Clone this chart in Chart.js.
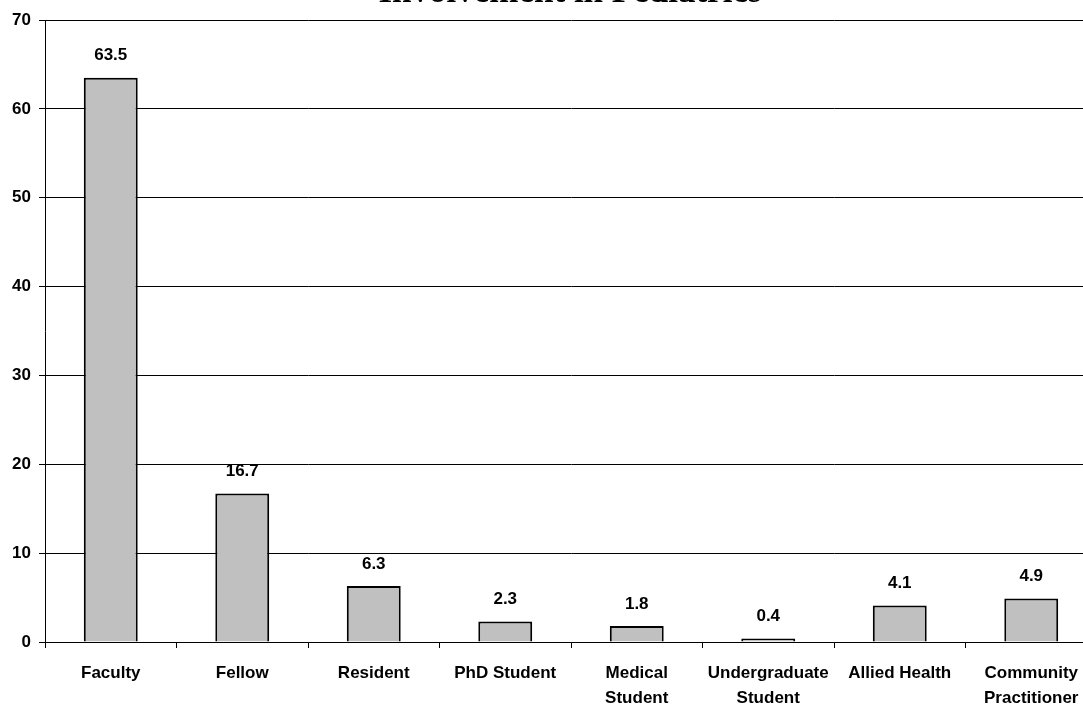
<!DOCTYPE html>
<html>
<head>
<meta charset="utf-8">
<script src="https://cdn.jsdelivr.net/npm/chart.js@4"></script>
<style>
  html, body { margin: 0; padding: 0; background: #fff; overflow: hidden; }
  #wrap { position: relative; width: 1100px; height: 709px; }
</style>
</head>
<body>
<div id="wrap"><canvas id="chart"></canvas></div>
<script>
// Chart data
const title = "Involvement in Pediatrics";
const categories = [
  "Faculty",
  "Fellow",
  "Resident",
  "PhD Student",
  ["Medical", "Student"],
  ["Undergraduate", "Student"],
  "Allied Health",
  ["Community", "Practitioner"],
];
const percentages = [63.5, 16.7, 6.3, 2.3, 1.8, 0.4, 4.1, 4.9];
const yTicks = [0, 10, 20, 30, 40, 50, 60, 70];

const fontFamily = "'Liberation Sans Narrow', 'Liberation Sans', Arial, sans-serif";

// Draws the value above each bar
const valueLabels = {
  id: "valueLabels",
  afterDatasetsDraw(chart) {
    const ctx = chart.ctx;
    const meta = chart.getDatasetMeta(0);
    ctx.save();
    ctx.font = "bold 17px " + fontFamily;
    ctx.fillStyle = "#000";
    ctx.textAlign = "center";
    ctx.textBaseline = "middle";
    meta.data.forEach((bar, i) => {
      ctx.fillText(percentages[i].toFixed(1), bar.x, bar.y - 22);
    });
    ctx.restore();
  },
};

// Title sits mostly above the visible area, as in the original
const clippedTitle = {
  id: "clippedTitle",
  afterDraw(chart) {
    const ctx = chart.ctx;
    ctx.save();
    ctx.font = "bold 35px 'Liberation Serif', 'Times New Roman', serif";
    ctx.fillStyle = "#000";
    ctx.textAlign = "center";
    ctx.textBaseline = "alphabetic";
    ctx.fillText(title, 570, 2);
    ctx.restore();
  },
};

const chart = new Chart("chart", {
  type: "bar",
  data: {
    labels: categories,
    datasets: [
      {
        data: percentages,
        backgroundColor: "#c0c0c0",
        borderColor: "#000",
        borderWidth: 2,
        barPercentage: 0.41,
        categoryPercentage: 1,
      },
    ],
  },
  options: {
    responsive: true,
    maintainAspectRatio: false,
    animation: false,
    layout: { padding: { top: 20, right: 3, left: 0, bottom: 0 } },
    plugins: {
      legend: { display: false },
      tooltip: { enabled: false },
    },
    scales: {
      x: {
        grid: {
          display: true,
          drawOnChartArea: false,
          drawTicks: true,
          tickLength: 6,
          color: "#000",
        },
        border: { color: "#000", width: 1 },
        ticks: {
          color: "#000",
          font: { family: fontFamily, size: 17, weight: "bold", lineHeight: 1.45 },
          padding: 13,
          maxRotation: 0,
          autoSkip: false,
        },
        afterFit(scale) {
          scale.height = 67;
        },
      },
      y: {
        min: 0,
        max: 70,
        afterBuildTicks(scale) {
          scale.ticks = yTicks.map((v) => ({ value: v }));
        },
        grid: {
          color: "#000",
          lineWidth: 1,
          tickLength: 6,
        },
        border: { color: "#000", width: 1 },
        ticks: {
          color: "#000",
          font: { family: fontFamily, size: 17, weight: "bold" },
          padding: 8,
        },
        afterFit(scale) {
          scale.width = 45;
        },
      },
    },
  },
  plugins: [valueLabels, clippedTitle],
});
</script>
</body>
</html>
